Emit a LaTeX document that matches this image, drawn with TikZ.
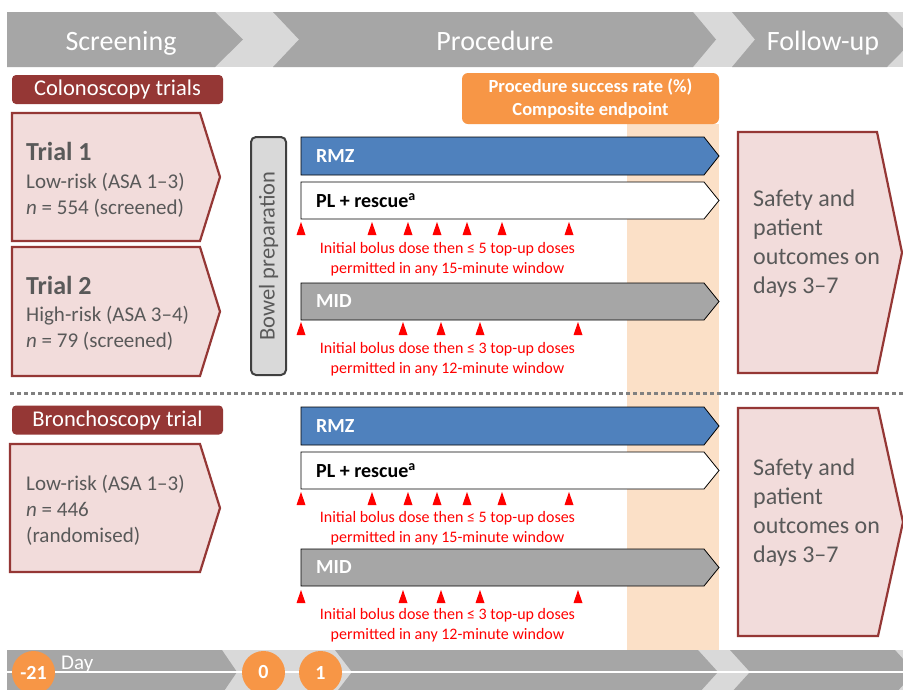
\documentclass[tikz,border=0pt]{standalone}
\usepackage{fontspec}
\setmainfont{Carlito}
\usepackage{tikz}
\usetikzlibrary{positioning}

\definecolor{phasegray}{HTML}{A6A6A6}
\definecolor{phaselight}{HTML}{D9D9D9}
\definecolor{trialred}{HTML}{953735}
\definecolor{trialpink}{HTML}{F2DCDB}
\definecolor{textgray}{HTML}{595959}
\definecolor{rmzblue}{HTML}{4F81BD}
\definecolor{endorange}{HTML}{F79646}
\definecolor{endpeach}{HTML}{FBE0C7}
\definecolor{prepgray}{HTML}{404040}
\definecolor{dotgray}{HTML}{808080}

\begin{document}
\begin{tikzpicture}[x=1pt, y=-1pt,
	phase/.style={fill=phasegray},
	phasetext/.style={anchor=base, text=white, inner sep=0pt, font=\fontsize{28}{34}\selectfont},
	pent/.style={draw=trialred, fill=trialpink, line width=2.2pt},
	tag/.style={fill=trialred, rounded corners=4pt, text=white, minimum width=211pt, minimum height=29pt, inner sep=0pt, font=\fontsize{22.5}{27}\selectfont},
	boxtext/.style={anchor=base west, text=textgray, inner sep=0pt, font=\fontsize{21}{25}\selectfont},
	boxhead/.style={boxtext, font=\bfseries\fontsize{26}{31}\selectfont},
	outtext/.style={boxtext, font=\fontsize{24}{29}\selectfont},
	arm/.style={draw=black, line width=0.8pt},
	armtext/.style={anchor=west, inner sep=0pt, font=\bfseries\fontsize{20}{24}\selectfont},
	dose/.style={anchor=base, text=red, inner sep=0pt, font=\fontsize{16}{20}\selectfont},
	dosemark/.style={fill=red},
	daydot/.style={circle, fill=endorange, minimum size=43pt, inner sep=0pt, text=white, font=\bfseries\fontsize{20}{24}\selectfont}]

	\useasboundingbox (0,0) rectangle (903,689);
	\clip (0,0) rectangle (903,689);
	\fill[white] (0,0) rectangle (903,689);

	\fill[phaselight] (7,12) rectangle (903,67);
	\fill[phase] (7,12) -- (215,12) -- (243,39.5) -- (215,67) -- (7,67) -- cycle;
	\fill[phase] (273,12) -- (693,12) -- (716,39.5) -- (693,67) -- (273,67) -- (299,39.5) -- cycle;
	\fill[phase] (732,12) -- (887,12) -- (914,39.5) -- (887,67) -- (732,67) -- (755,39.5) -- cycle;
	\node[phasetext] (screening) at (121,50) {Screening};
	\node[phasetext] (procedure) at (495,50) {Procedure};
	\node[phasetext] (followup) at (823,50) {Follow-up};

	\fill[endpeach] (627,124) rectangle (719,650);
	\node[fill=endorange, rounded corners=6pt, minimum width=257pt, minimum height=51pt, inner sep=0pt, align=center, text=white, font=\bfseries\fontsize{18.5}{23}\selectfont] (endpoint) at (590.5,98.5) {Procedure success rate (\%)\\Composite endpoint};

	\node[tag] (colon) at (117.5,89.5) {Colonoscopy trials};
	\draw[pent] (12,113) -- (200,113) -- (220,177) -- (200,241) -- (12,241) -- cycle;
	\draw[pent] (12,247) -- (200,247) -- (220,311.5) -- (200,376) -- (12,376) -- cycle;
	\node[boxhead] (trial1) at (26,160) {Trial 1};
	\node[boxtext] (risk1) at (26,188) {Low-risk (ASA 1–3)};
	\node[boxtext] (size1) at (26,214) {\textit{n} = 554 (screened)};
	\node[boxhead] (trial2) at (26,294) {Trial 2};
	\node[boxtext] (risk2) at (26,321) {High-risk (ASA 3–4)};
	\node[boxtext] (size2) at (26,347) {\textit{n} = 79 (screened)};

	\node[tag] (broncho) at (117.5,420) {Bronchoscopy trial};
	\draw[pent] (10,444) -- (200,444) -- (220,508) -- (200,572) -- (10,572) -- cycle;
	\node[boxtext] (risk3) at (26,490) {Low-risk (ASA 1–3)};
	\node[boxtext] (size3) at (26,516) {\textit{n} = 446};
	\node[boxtext] (rand3) at (26,542) {(randomised)};

	\node[draw=prepgray, fill=phaselight, line width=2pt, rounded corners=5pt, rotate=90, minimum width=238pt, minimum height=35pt, inner sep=0pt, text=textgray, font=\fontsize{22.5}{27}\selectfont] (bowel) at (268.5,256) {Bowel preparation};

	\draw[pent] (738,132) -- (877,132) -- (902,252.5) -- (877,373) -- (738,373) -- cycle;
	\draw[pent] (738,408) -- (878,408) -- (903,522) -- (878,636) -- (738,636) -- cycle;
	\foreach \y/\s in {206/a,475/b} {
		\node[outtext] (safe\s1) at (753,\y) {Safety and};
		\node[outtext] (safe\s2) at (753,\y+29) {patient};
		\node[outtext] (safe\s3) at (753,\y+58) {outcomes on};
		\node[outtext] (safe\s4) at (753,\y+87) {days 3–7};
	}

	\foreach \nm/\yt/\yb/\col/\tcol/\lbl in {rmza/137/175/rmzblue/white/RMZ, pla/182/219/white/black/{PL + rescue\textsuperscript{a}}, mida/283/320/phasegray/white/MID, rmzb/407/445/rmzblue/white/RMZ, plb/452/489/white/black/{PL + rescue\textsuperscript{a}}, midb/549/586/phasegray/white/MID} {
		\draw[arm, fill=\col] (301,\yt) -- (704,\yt) -- (719,{(\yt+\yb)/2}) -- (704,\yb) -- (301,\yb) -- cycle;
		\node[armtext, text=\tcol] (\nm) at (316,{(\yt+\yb)/2}) {\lbl};
	}

	\foreach \yb in {235,505}
		\foreach \x in {301,372,408,437,467,502,569}
			\fill[dosemark] (\x-4.5,\yb) -- (\x,\yb-13) -- (\x+4.5,\yb) -- cycle;
	\foreach \yb in {335,603}
		\foreach \x in {301,403,441,480,578}
			\fill[dosemark] (\x-4.5,\yb) -- (\x,\yb-13) -- (\x+4.5,\yb) -- cycle;
	\foreach \s/\y/\cnt/\win in {pa/253/5/15, ma/353/3/12, pb/522/5/15, mb/619/3/12} {
		\node[dose] (dose\s1) at (447.5,\y) {Initial bolus dose then ≤ \cnt\ top-up doses};
		\node[dose] (dose\s2) at (447.5,\y+20) {permitted in any \win-minute window};
	}

	\draw[dotgray, line width=3pt, dash pattern=on 3.5pt off 3.5pt] (10,393) -- (903,393);

	\fill[phaselight] (7,650) rectangle (903,694);
	\fill[phase] (7,650) -- (222,650) -- (237,672) -- (222,694) -- (7,694) -- cycle;
	\fill[phase] (335,650) -- (698,650) -- (718,672) -- (698,694) -- (335,694) -- (352,672) -- cycle;
	\fill[phase] (730,650) -- (895,650) -- (915,672) -- (895,694) -- (730,694) -- (750,672) -- cycle;
	\draw[white, line width=2.5pt] (7,672) -- (903,672);
	\node[daydot] (dm21) at (33.5,672.5) {-21};
	\node[daydot] (d0) at (263.5,672.5) {0};
	\node[daydot] (d1) at (320.5,672.5) {1};
	\node[anchor=base west, text=white, inner sep=0pt, font=\fontsize{21}{25}\selectfont] (daylabel) at (61,669) {Day};
\end{tikzpicture}
\end{document}
